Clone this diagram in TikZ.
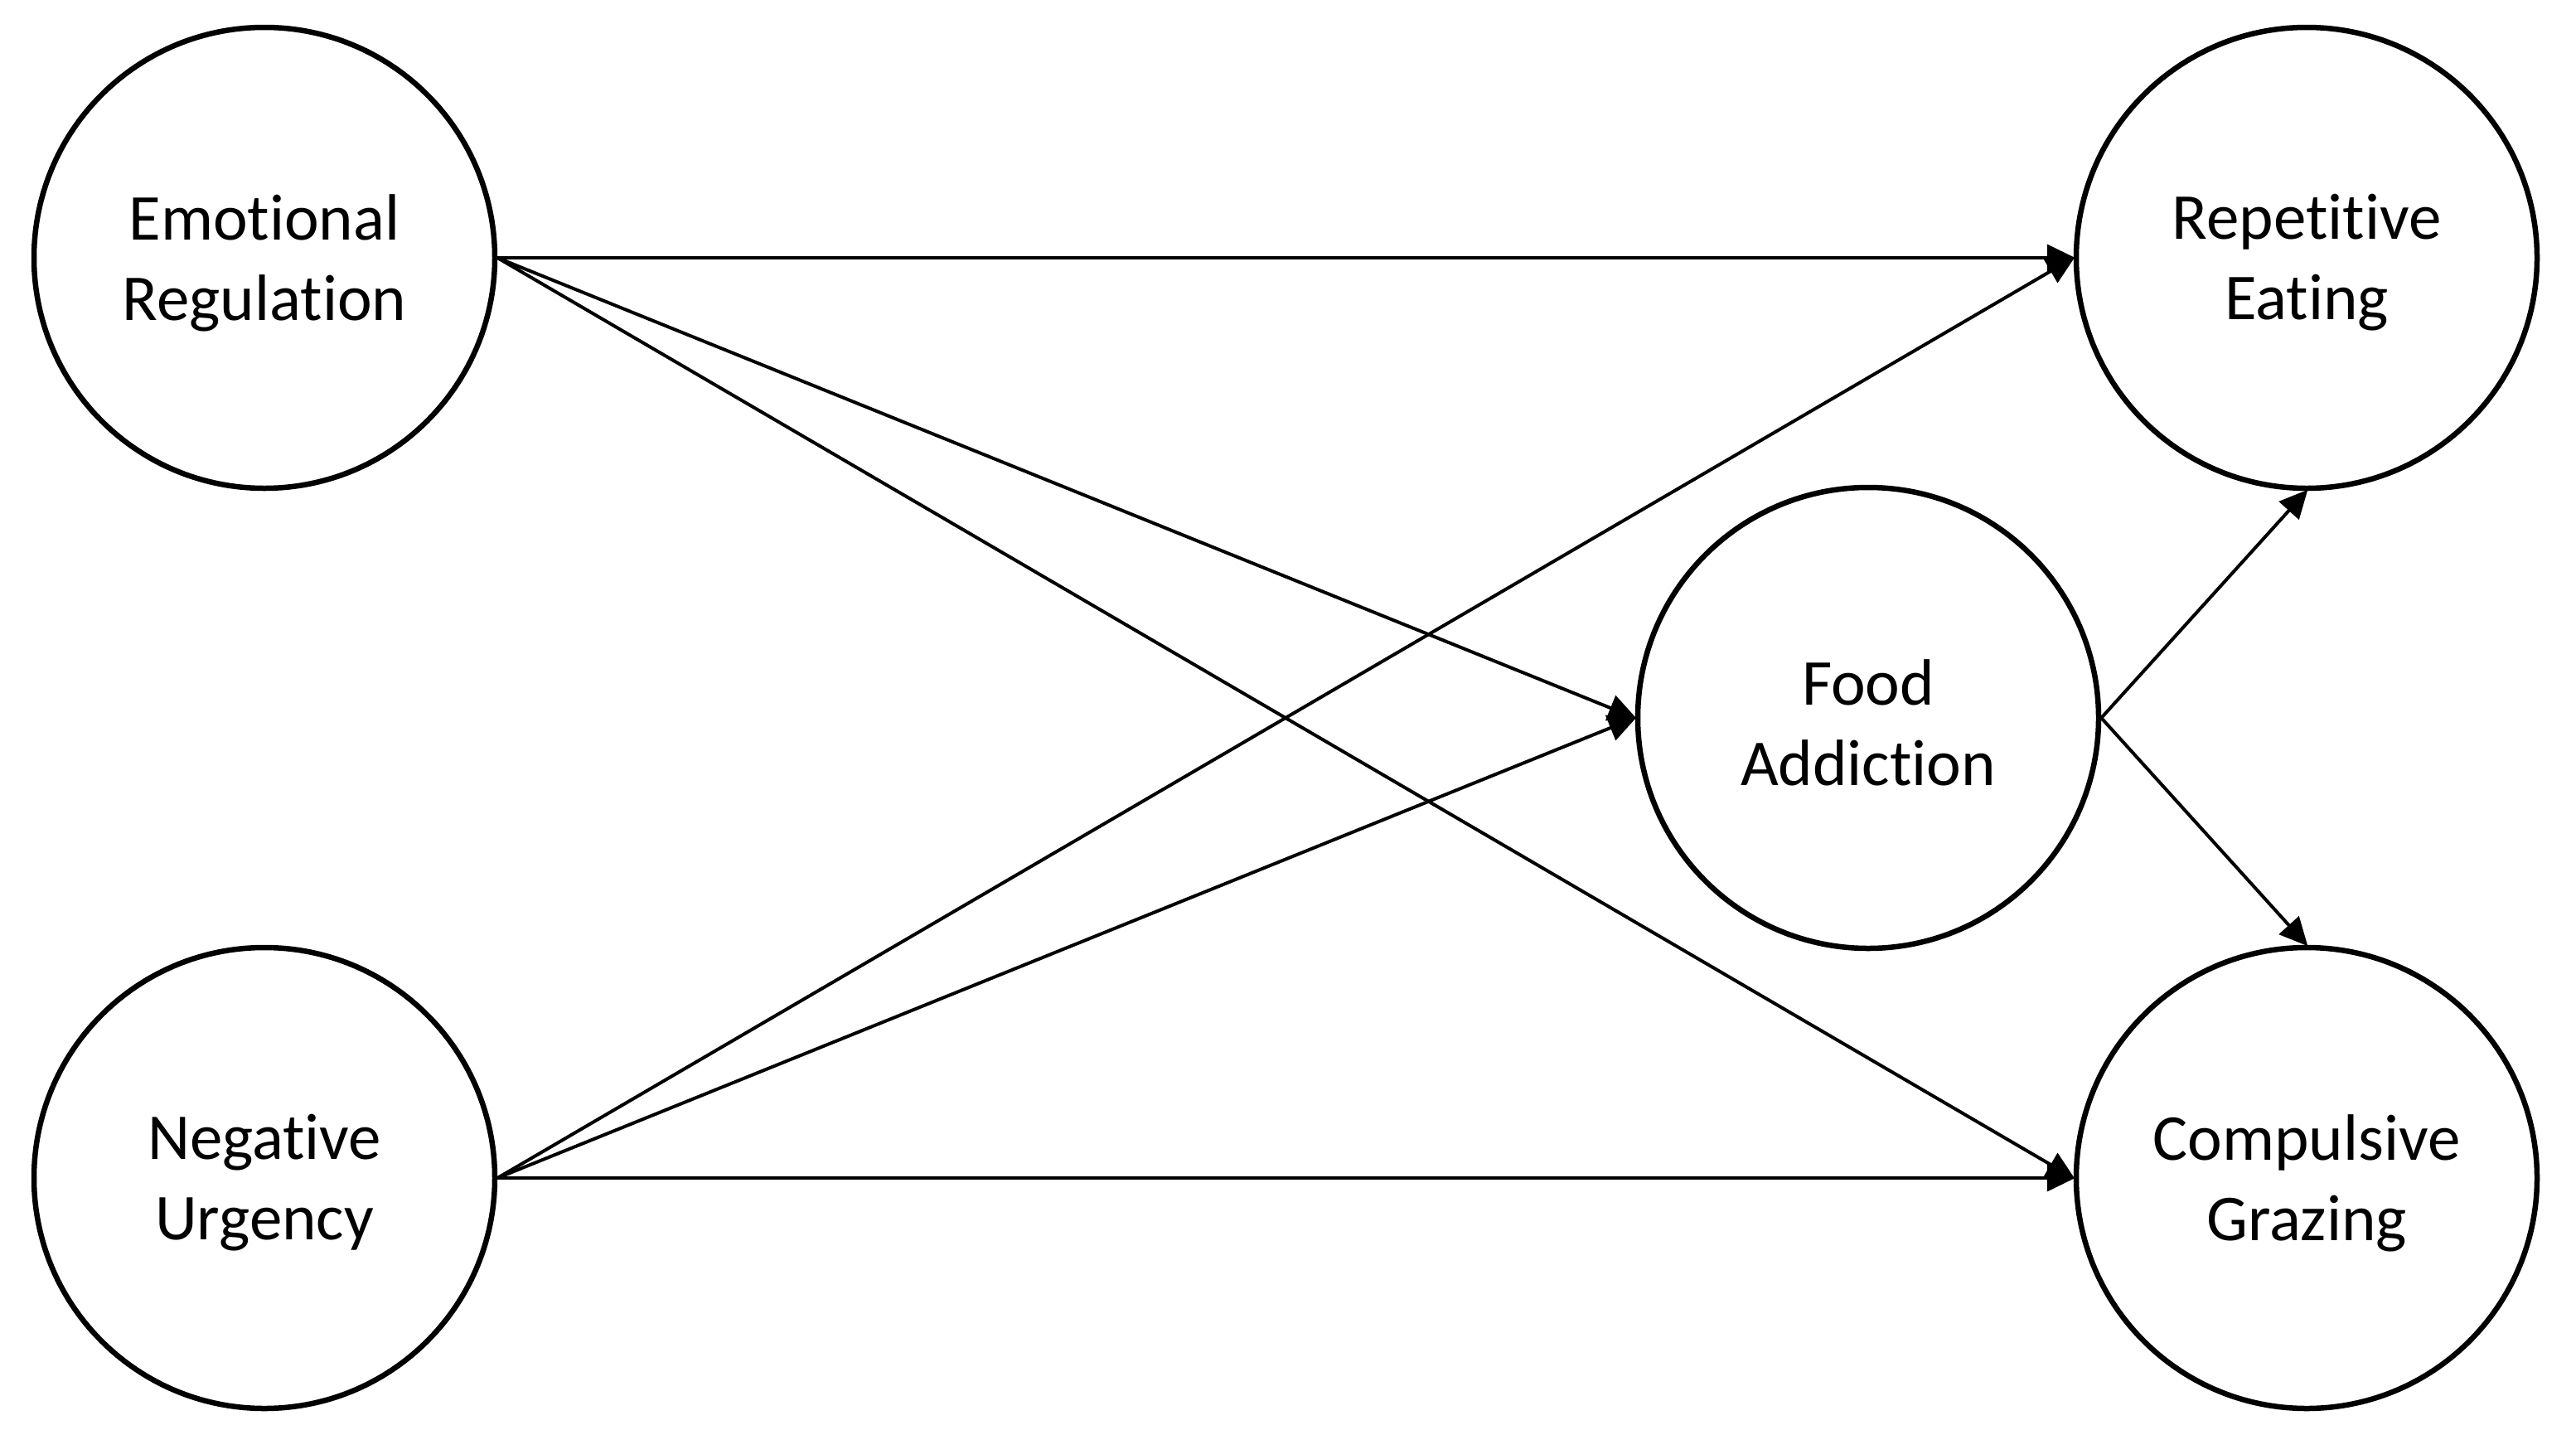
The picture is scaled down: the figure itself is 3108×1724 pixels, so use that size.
\documentclass[tikz,border=0pt]{standalone}
\usepackage{fontspec}
\setmainfont{Carlito}[RawFeature=-liga]
\usetikzlibrary{arrows.meta}
\begin{document}
\begin{tikzpicture}[x=1pt,y=-1pt,
  latent/.style={circle,draw=black,line width=6.5pt,minimum size=556pt,inner sep=0pt},
  lbl/.style={align=center,inner sep=0pt,yshift=-6pt,font=\fontsize{79}{97}\selectfont},
  path/.style={line width=4pt,-{Triangle[length=34pt,width=32pt]},shorten >=-2pt}]
\useasboundingbox (0,0) rectangle (3108,1724);
\node[latent] (er) at (319,311) {};
\node[latent] (nu) at (319,1421) {};
\node[latent] (re) at (2783,311) {};
\node[latent] (fa) at (2254,866) {};
\node[latent] (cg) at (2783,1421) {};
\node[lbl] (ert) at (er) {Emotional\\Regulation};
\node[lbl] (nut) at (nu) {Negative\\Urgency};
\node[lbl] (ret) at (re) {Repetitive\\Eating};
\node[lbl] (fat) at (fa) {Food\\Addiction};
\node[lbl] (cgt) at (cg) {Compulsive\\Grazing};
\draw[path] (er.east) -- (re.west);
\draw[path] (er.east) -- (fa.west);
\draw[path] (er.east) -- (cg.west);
\draw[path] (nu.east) -- (re.west);
\draw[path] (nu.east) -- (fa.west);
\draw[path] (nu.east) -- (cg.west);
\draw[path] (fa.east) -- (re.south);
\draw[path] (fa.east) -- (cg.north);
\end{tikzpicture}
\end{document}
